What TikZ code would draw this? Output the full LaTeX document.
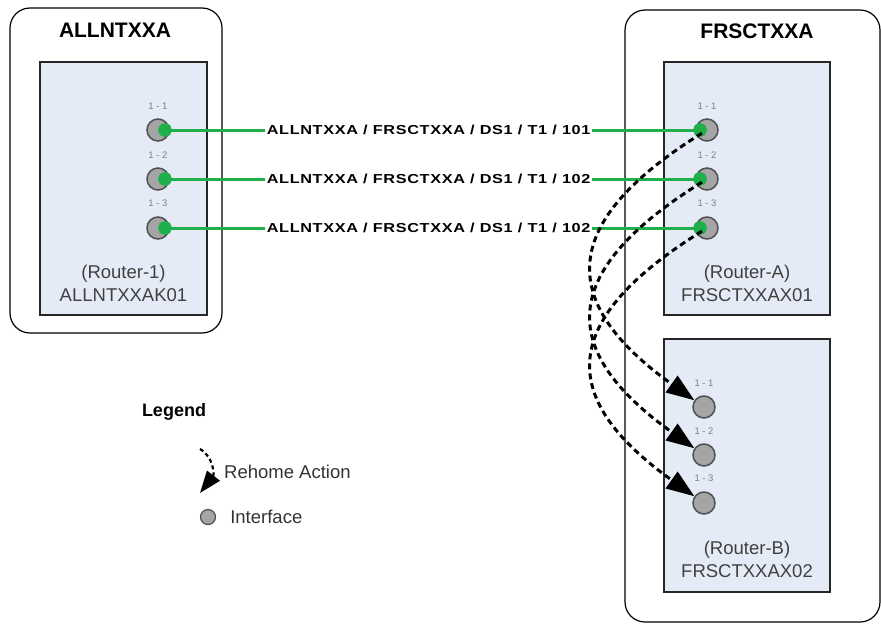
\documentclass[tikz,border=0pt]{standalone}
\usepackage{fontspec}
\setmainfont{Liberation Sans}
\newfontfamily\linkfont[FakeStretch=1.25,LetterSpace=5]{Liberation Sans}
\usetikzlibrary{arrows.meta,positioning,calc}
\definecolor{linkgreen}{HTML}{20B04B}
\definecolor{rfill}{HTML}{E4EAF6}
\definecolor{pgray}{HTML}{A5A5A5}
\definecolor{pedge}{HTML}{505050}
\definecolor{ptext}{HTML}{808080}
\tikzset{
 site/.style={draw=black,line width=1.2pt,rounded corners=20pt,fill=white,inner sep=0pt},
 sitetitle/.style={font=\fontsize{21}{24}\selectfont\bfseries},
 routerbox/.style={draw=black!85,line width=1.2pt,fill=rfill,inner sep=0pt},
 routertext/.style={align=center,inner sep=0pt,text=black!75,
   font=\fontsize{18.5}{22.5}\selectfont},
 port/.style={circle,draw=pedge,fill=pgray,line width=1.5pt,minimum size=22pt,
   inner sep=0pt},
 portlbl/.style={font=\fontsize{9.5}{10}\selectfont,text=ptext,inner sep=1pt,yshift=8pt},
 link/.style={{Circle[length=14pt]}-{Circle[length=14pt]},draw=linkgreen,line width=3pt},
 linklabel/.style={fill=white,inner sep=1.5pt,
   font=\linkfont\bfseries\fontsize{13}{15}\selectfont},
 rehome/.style={-{Triangle[length=28pt,width=20pt]},line width=3pt,
   dash pattern=on 6pt off 4pt},
 legendtext/.style={font=\fontsize{18.5}{22}\selectfont,text=black!80,inner sep=1pt}
}
\begin{document}
\begin{tikzpicture}[x=1pt,y=-1pt]
 \useasboundingbox (0,0) rectangle (881,626);
 % sites
 \node[site,minimum width=212pt,minimum height=325pt] (west) at (116,170.5) {};
 \node[site,minimum width=255pt,minimum height=612pt] (east) at (752.5,316) {};
 \node[sitetitle] (westname) at (115,30) {ALLNTXXA};
 \node[sitetitle] (eastname) at (757,31) {FRSCTXXA};
 % routers
 \node[routerbox,minimum width=167pt,minimum height=253pt] (r1) at (123.5,188.5) {};
 \node[routerbox,minimum width=166pt,minimum height=253pt] (ra) at (747,188.5) {};
 \node[routerbox,minimum width=166pt,minimum height=253pt] (rb) at (747,465.5) {};
 \node[routertext] (r1txt) at (123.5,283.5) {(Router-1)\\ALLNTXXAK01};
 \node[routertext] (ratxt) at (747,283.5) {(Router-A)\\FRSCTXXAX01};
 \node[routertext] (rbtxt) at (747,559.5) {(Router-B)\\FRSCTXXAX02};
 % interfaces
 \foreach \i/\y in {1/130,2/179,3/228} {
   \node[port,label={[portlbl]above:1 - \i}] (p\i) at (158,\y) {};
   \node[port,label={[portlbl]above:1 - \i}] (a\i) at (707,\y) {};
 }
 \foreach \i/\y in {1/407,2/455,3/503}
   \node[port,label={[portlbl]above:1 - \i}] (b\i) at (704,\y) {};
 % circuits
 \foreach \i/\n in {1/101,2/102,3/102}
   \draw[link] (p\i.center) -- node[linklabel,pos=.493] (l\i)
     {ALLNTXXA / FRSCTXXA / DS1 / T1 / \n} (a\i.center);
 % rehome
 \foreach \i in {1,2,3}
   \draw[rehome,shorten <=6pt] (a\i.center) .. controls +(-146,91) and +(-140,-100) .. (b\i.145);
 % legend
 \node[font=\fontsize{18}{20}\selectfont\bfseries] (legend) at (174,412) {Legend};
 \coordinate (lgs) at (200,449);
 \coordinate (lge) at (200,493);
 \draw[rehome,line width=2.2pt,dash pattern=on 4pt off 3pt,-{Triangle[length=22pt,width=16pt]}]
   (lgs) .. controls +(14,8) and +(14,-18) .. (lge);
 \node[legendtext,anchor=west] (rehometxt) at (223,472) {Rehome Action};
 \node[port,minimum size=15pt,line width=1.2pt] (lgport) at (208,517) {};
 \node[legendtext,right=13pt of lgport] (ifacetxt) {Interface};
\end{tikzpicture}
\end{document}
